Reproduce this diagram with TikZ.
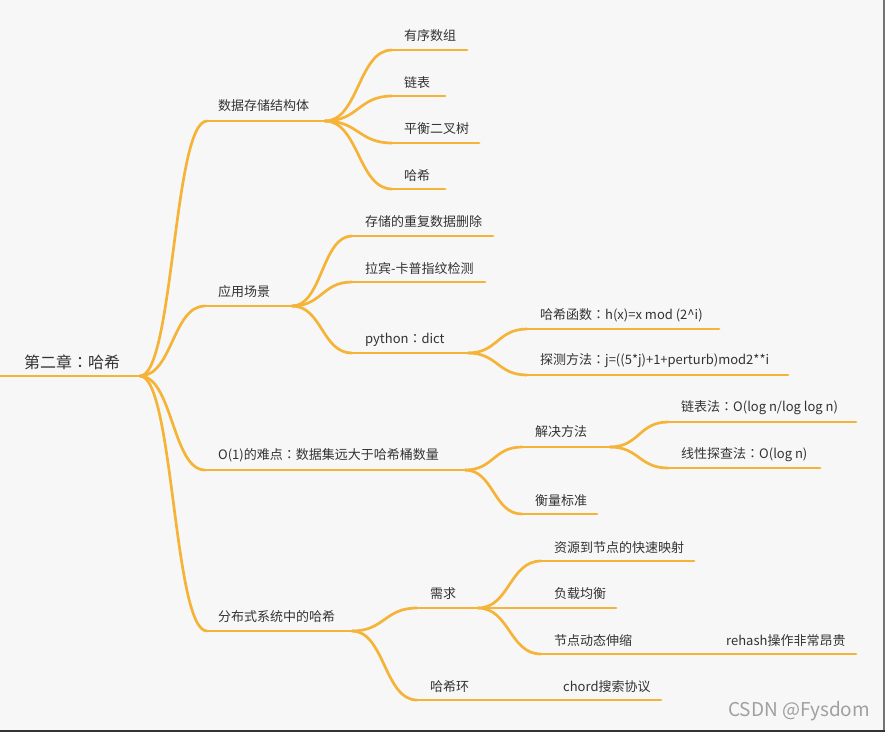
\documentclass[tikz,border=0pt]{standalone}
\usepackage{fontspec}
\setmainfont{Noto Sans CJK SC}
\newfontfamily\tcfont{Noto Sans CJK TC}
\newcommand{\cln}{{\tcfont ：}}
\usetikzlibrary{calc}
\definecolor{br}{RGB}{245,180,55}
\definecolor{bg}{RGB}{247,247,247}
\definecolor{tx}{RGB}{51,51,51}
\definecolor{wm}{RGB}{160,160,160}
\begin{document}
\begin{tikzpicture}[x=1pt,y=-1pt,
  link/.style={draw=br,line width=2.7pt,line cap=round},
  sc/.style={to path={let \p1=(\tikztostart),\p2=(\tikztotarget) in .. controls ({0.5*\x1+0.5*\x2},\y1) and ({0.5*\x1+0.5*\x2},\y2) .. (\tikztotarget)}},
  lbl/.style={anchor=west,inner sep=0pt,text=tx,font=\fontsize{13}{15}\selectfont},
  rootlbl/.style={anchor=west,inner sep=0pt,text=tx,font=\fontsize{16}{18}\selectfont}]
\fill[bg] (0,0) rectangle (885,732);
\useasboundingbox (0,0) rectangle (885,732);
\fill[gray!90!black] (883,0) rectangle (885,732);
\fill[black!80] (0,729.5) rectangle (885,732);

% coordinates (underline start / end)
\coordinate (root-in) at (0,376);   \coordinate (root-out) at (140,376);
\coordinate (a-in) at (207,121);    \coordinate (a-out) at (325,121);
\coordinate (a1-in) at (392,50);    \coordinate (a1-out) at (467,50);
\coordinate (a2-in) at (392,96);    \coordinate (a2-out) at (445,96);
\coordinate (a3-in) at (392,143);   \coordinate (a3-out) at (479,143);
\coordinate (a4-in) at (392,189);   \coordinate (a4-out) at (445,189);
\coordinate (b-in) at (205,306);    \coordinate (b-out) at (292,306);
\coordinate (b1-in) at (352,236);   \coordinate (b1-out) at (493,236);
\coordinate (b2-in) at (352,282);   \coordinate (b2-out) at (485,282);
\coordinate (b3-in) at (352,353);   \coordinate (b3-out) at (468,353);
\coordinate (b31-in) at (527,329);  \coordinate (b31-out) at (719,329);
\coordinate (b32-in) at (527,375);  \coordinate (b32-out) at (788,375);
\coordinate (c-in) at (205,470);    \coordinate (c-out) at (465,470);
\coordinate (c1-in) at (522,447);   \coordinate (c1-out) at (610,447);
\coordinate (c11-in) at (668,422);  \coordinate (c11-out) at (856,422);
\coordinate (c12-in) at (668,468);  \coordinate (c12-out) at (820,468);
\coordinate (c2-in) at (522,514);   \coordinate (c2-out) at (597,514);
\coordinate (d-in) at (207,631);    \coordinate (d-out) at (352,631);
\coordinate (d1-in) at (417,608);   \coordinate (d1-out) at (478,608);
\coordinate (d11-in) at (541,561);  \coordinate (d11-out) at (694,561);
\coordinate (d12-in) at (541,608);  \coordinate (d12-out) at (616,608);
\coordinate (d13-in) at (541,654);  \coordinate (d13-out) at (713,654);
\coordinate (d131-in) at (716,654); \coordinate (d131-out) at (856,654);
\coordinate (d2-in) at (417,700);   \coordinate (d2-out) at (550,700);
\coordinate (d21-in) at (553,700);  \coordinate (d21-out) at (661,700);

% underlines
\foreach \n in {root,a,a1,a2,a3,a4,b,b1,b2,b3,b31,b32,c,c1,c11,c12,c2,d,d1,d11,d12,d13,d131,d2,d21}
  \draw[link] (\n-in) -- (\n-out);

% connectors
\foreach \p/\c in {root/a,root/b,root/c,root/d,a/a1,a/a2,a/a3,a/a4,b/b1,b/b2,b/b3,b3/b31,b3/b32,c/c1,c/c2,c1/c11,c1/c12,d/d1,d/d2,d1/d11,d1/d12,d1/d13,d13/d131,d2/d21}
  \draw[link] (\p-out) to[sc] (\c-in);

% labels
\node[rootlbl] (root) at (24,362) {第二章\cln 哈希};
\node[lbl] (a) at (218,106) {数据存储结构体};
\node[lbl] (a1) at (404,36) {有序数组};
\node[lbl] (a2) at (404,83) {链表};
\node[lbl] (a3) at (404,129) {平衡二叉树};
\node[lbl] (a4) at (404,176) {哈希};
\node[lbl] (b) at (218,292) {应用场景};
\node[lbl] (b1) at (365,222) {存储的重复数据删除};
\node[lbl] (b2) at (365,269) {拉宾-卡普指纹检测};
\node[lbl] (b3) at (365,340) {python\cln dict};
\node[lbl] (b31) at (540,315) {哈希函数\cln h(x)=x mod (2\^{}i)};
\node[lbl] (b32) at (540,361) {探测方法\cln j=((5*j)+1+perturb)mod2**i};
\node[lbl] (c) at (218,455) {O(1)的难点\cln 数据集远大于哈希桶数量};
\node[lbl] (c1) at (535,432) {解决方法};
\node[lbl] (c11) at (681,408) {链表法\cln O(log n/log log n)};
\node[lbl] (c12) at (681,455) {线性探查法\cln O(log n)};
\node[lbl] (c2) at (535,501) {衡量标准};
\node[lbl] (d) at (218,617) {分布式系统中的哈希};
\node[lbl] (d1) at (430,594) {需求};
\node[lbl] (d11) at (554,548) {资源到节点的快速映射};
\node[lbl] (d12) at (554,594) {负载均衡};
\node[lbl] (d13) at (554,641) {节点动态伸缩};
\node[lbl] (d131) at (726,641) {rehash操作非常昂贵};
\node[lbl] (d2) at (430,687) {哈希环};
\node[lbl] (d21) at (563,687) {chord搜索协议};
\node[anchor=west,inner sep=0pt,text=wm,font=\fontsize{19}{21}\selectfont] (wm) at (728,711) {CSDN @Fysdom};
\end{tikzpicture}
\end{document}
